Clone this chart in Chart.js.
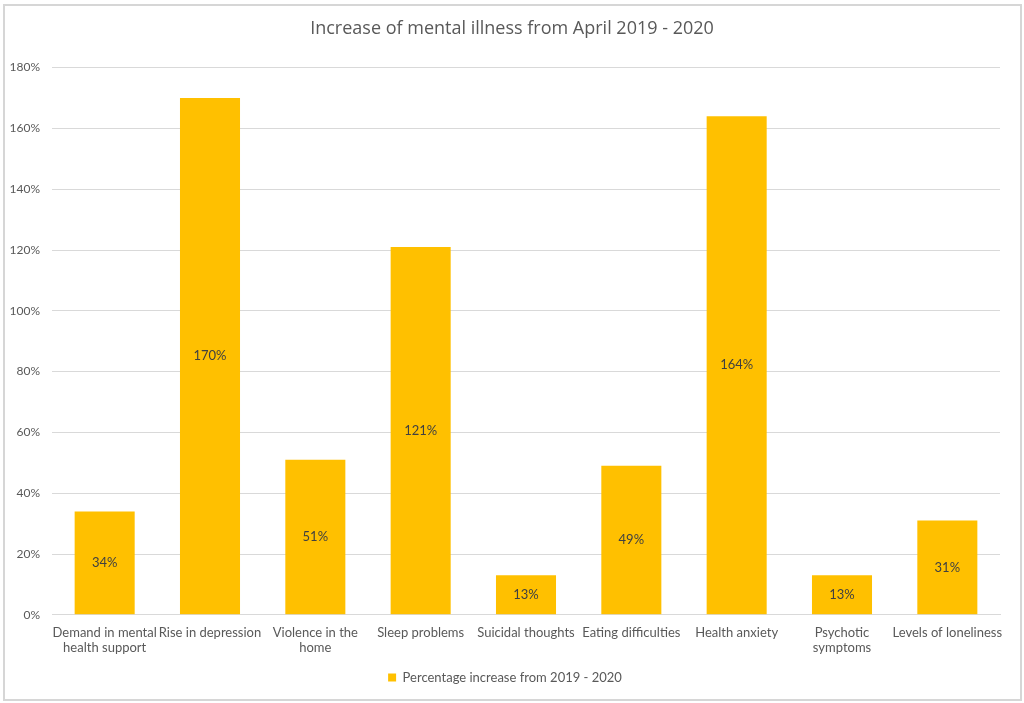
<!DOCTYPE html>
<html>
<head>
<meta charset="utf-8">
<title>Increase of mental illness</title>
<script src="https://cdn.jsdelivr.net/npm/chart.js@4/dist/chart.umd.min.js"></script>
<style>
    body { margin: 0; background: #fff; }
    #frame {
        position: absolute; left: 3px; top: 4px;
        width: 1015px; height: 693px;
        border: 2px solid #d6d6d6;
        background: #fff;
    }
</style>
</head>
<body>
<div id="frame"><canvas id="chart"></canvas></div>
<script>
const categories = [
    ['Demand in mental', 'health support'],
    'Rise in depression',
    ['Violence in the', 'home'],
    'Sleep problems',
    'Suicidal thoughts',
    'Eating difficulties',
    'Health anxiety',
    ['Psychotic', 'symptoms'],
    'Levels of loneliness'
];
const increases = [34, 170, 51, 121, 13, 49, 164, 13, 31];
const yTicks = [0, 20, 40, 60, 80, 100, 120, 140, 160, 180];
const seriesName = 'Percentage increase from 2019 - 2020';
const chartTitle = 'Increase of mental illness from April 2019 - 2020';

const textColor = '#595959';
const titleFont = "'Open Sans', 'Liberation Sans', sans-serif";
const fontFamily = "Lato, 'Open Sans', sans-serif";

// labels in the middle of each bar
const barLabels = {
    id: 'barLabels',
    afterDatasetsDraw(chart) {
        const ctx = chart.ctx;
        ctx.save();
        ctx.font = '13px ' + fontFamily;
        ctx.fillStyle = '#404040';
        ctx.textAlign = 'center';
        ctx.textBaseline = 'middle';
        chart.getDatasetMeta(0).data.forEach((bar, i) => {
            ctx.fillText(increases[i] + '%', bar.x, (bar.y + bar.base) / 2);
        });
        ctx.restore();
    }
};

// title sits centred on the whole frame, not on the padded box
const centreTitle = {
    id: 'centreTitle',
    afterLayout(chart) {
        if (chart.titleBlock) chart.titleBlock.left += 14;
    }
};

new Chart(document.getElementById('chart'), {
    type: 'bar',
    data: {
        labels: categories,
        datasets: [{
            label: seriesName,
            data: increases,
            backgroundColor: '#FFC000',
            borderWidth: 0,
            barPercentage: 0.57,
            categoryPercentage: 1
        }]
    },
    options: {
        responsive: true,
        maintainAspectRatio: false,
        animation: false,
        layout: { padding: { left: 5, right: 20, top: 0, bottom: 5 } },
        plugins: {
            title: {
                display: true,
                text: chartTitle,
                color: textColor,
                font: { family: titleFont, size: 18, weight: 'normal' },
                padding: { top: 12, bottom: 28 }
            },
            legend: {
                position: 'bottom',
                labels: {
                    color: textColor,
                    boxWidth: 8,
                    boxHeight: 8,
                    padding: 10,
                    font: { family: fontFamily, size: 13 }
                }
            },
            tooltip: { enabled: false }
        },
        scales: {
            x: {
                grid: { display: false },
                border: { color: '#d9d9d9' },
                afterFit: scale => {
                    scale.paddingLeft = 0;
                    scale.paddingRight = 0;
                    scale.height += 3;
                },
                ticks: {
                    color: textColor,
                    font: { family: fontFamily, size: 13 },
                    padding: 2,
                    maxRotation: 0,
                    autoSkip: false
                }
            },
            y: {
                min: yTicks[0],
                max: yTicks[yTicks.length - 1],
                afterBuildTicks: axis => { axis.ticks = yTicks.map(v => ({ value: v })); },
                afterFit: axis => { axis.width = 42; },
                grid: { color: '#d9d9d9', drawTicks: false },
                border: { display: false },
                ticks: {
                    color: textColor,
                    font: { family: fontFamily, size: 12 },
                    padding: 12,
                    callback: v => v + '%'
                }
            }
        }
    },
    plugins: [barLabels, centreTitle]
});
</script>
</body>
</html>
